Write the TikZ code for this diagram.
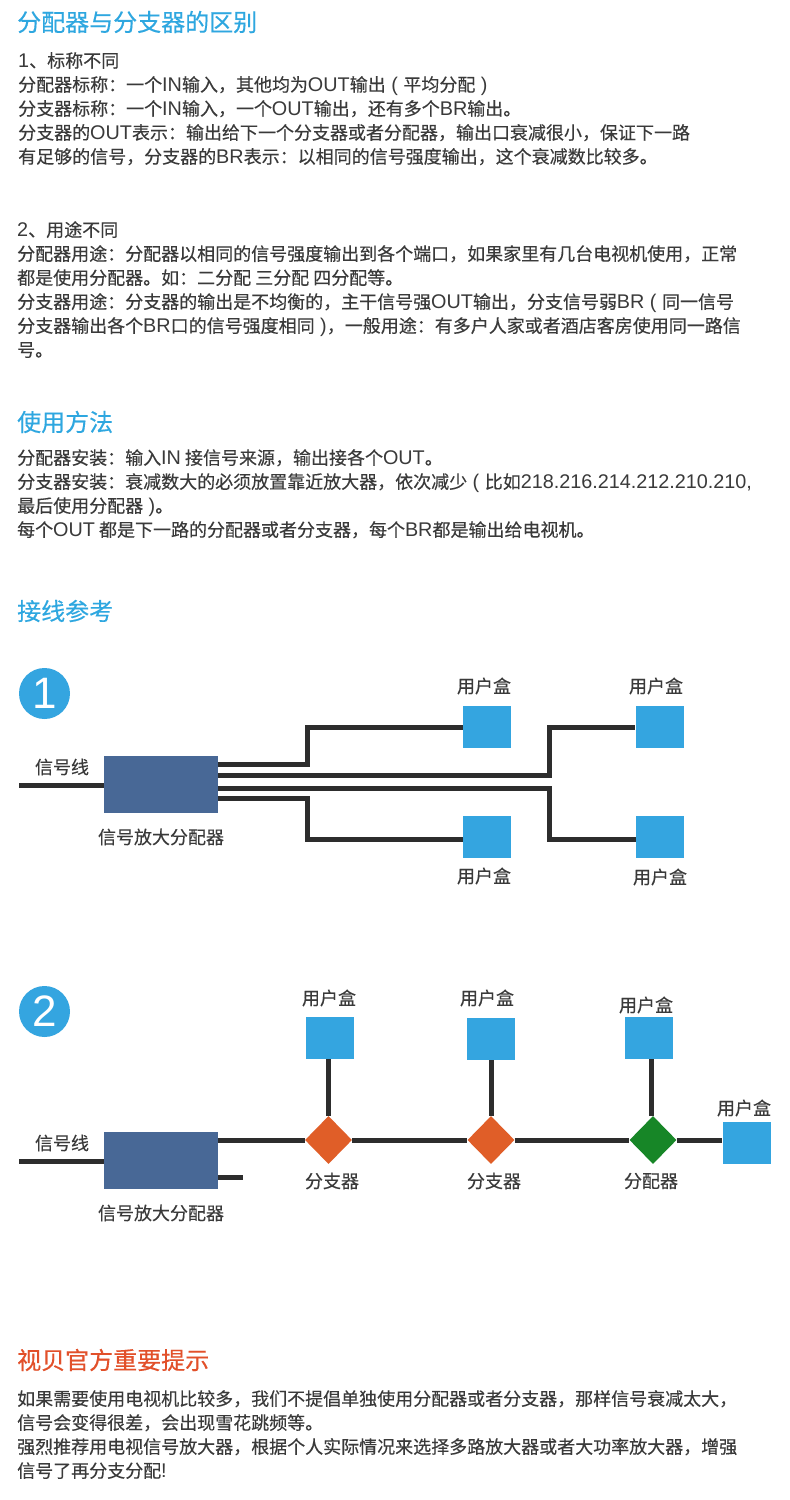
\documentclass[tikz,border=0pt]{standalone}
\usepackage{fontspec}
\setmainfont[FakeBold=0.3]{Noto Sans CJK SC}
\newfontfamily\latfont[Scale=1.1]{Liberation Sans}
\newcommand\lat[1]{{\latfont #1}}
\newcommand\zhcomma{\symbol{"FF0C}}
\newcommand\zhcolon{\symbol{"FF1A}}
\usetikzlibrary{shapes.geometric}
\definecolor{txtgray}{HTML}{3A3A3A}
\definecolor{headblue}{HTML}{2EA7E0}
\definecolor{headred}{HTML}{E2502A}
\definecolor{boxblue}{HTML}{34A5E0}
\definecolor{ampblue}{HTML}{486896}
\definecolor{wiregray}{HTML}{2D2D2D}
\definecolor{tapred}{HTML}{E05E28}
\definecolor{splitgreen}{HTML}{178627}
\tikzset{
  heading/.style={anchor=west,inner sep=0pt,font=\fontsize{24}{24}\selectfont},
  para/.style={anchor=north west,inner sep=0pt,align=left,text=txtgray,font=\fontsize{18}{24}\selectfont},
  tag/.style={inner sep=0pt,text=txtgray,font=\fontsize{18}{18}\selectfont},
  wire/.style={draw=wiregray,line width=5pt},
  userbox/.style={fill=boxblue,inner sep=0pt,minimum width=48pt,minimum height=42pt},
  ampbox/.style={fill=ampblue,inner sep=0pt,minimum width=114pt,minimum height=57pt},
  stepmark/.style={circle,fill=boxblue,text=white,inner sep=0pt,minimum size=51pt,font=\latfont\fontsize{40}{40}\selectfont},
  junction/.style={diamond,inner sep=0pt,minimum width=47pt,minimum height=48pt}
}
\begin{document}
\begin{tikzpicture}[x=1pt,y=-1pt]
  \useasboundingbox[fill=white] (0,0) rectangle (790,1500);
  % The texts
  \node[heading,text=headblue] (titlediff) at (17,22) {分配器与分支器的区别};
  \node[para] (paranames) at (18,52) {\lat{1}、标称不同\\
    分配器标称\zhcolon 一个\lat{IN}输入\zhcomma 其他均为\lat{OUT}输出\lat{ ( }平均分配\lat{ )}\\
    分支器标称\zhcolon 一个\lat{IN}输入\zhcomma 一个\lat{OUT}输出\zhcomma 还有多个\lat{BR}输出。\\
    分支器的\lat{OUT}表示\zhcolon 输出给下一个分支器或者分配器\zhcomma 输出口衰减很小\zhcomma 保证下一路\\
    有足够的信号\zhcomma 分支器的\lat{BR}表示\zhcolon 以相同的信号强度输出\zhcomma 这个衰减数比较多。};
  \node[para] (parauses) at (17,221) {\lat{2}、用途不同\\
    分配器用途\zhcolon 分配器以相同的信号强度输出到各个端口\zhcomma 如果家里有几台电视机使用\zhcomma 正常\\
    都是使用分配器。如\zhcolon 二分配 三分配 四分配等。\\
    分支器用途\zhcolon 分支器的输出是不均衡的\zhcomma 主干信号强\lat{OUT}输出\zhcomma 分支信号弱\lat{BR ( }同一信号\\
    分支器输出各个\lat{BR}口的信号强度相同\lat{ )}\zhcomma 一般用途\zhcolon 有多户人家或者酒店客房使用同一路信\\
    号。};
  \node[heading,text=headblue] (titleuse) at (17,422) {使用方法};
  \node[para] (parainstall) at (17,449) {分配器安装\zhcolon 输入\lat{IN} 接信号来源\zhcomma 输出接各个\lat{OUT}。\\
    分支器安装\zhcolon 衰减数大的必须放置靠近放大器\zhcomma 依次减少\lat{ ( }比如\lat{218.216.214.212.210.210,}\\
    最后使用分配器\lat{ )}。\\
    每个\lat{OUT} 都是下一路的分配器或者分支器\zhcomma 每个\lat{BR}都是输出给电视机。};
  \node[heading,text=headblue] (titlewire) at (17,611) {接线参考};
  \node[heading,text=headred] (titletip) at (17,1360) {视贝官方重要提示};
  \node[para] (paratip) at (17,1390) {如果需要使用电视机比较多\zhcomma 我们不提倡单独使用分配器或者分支器\zhcomma 那样信号衰减太大\zhcomma\\
    信号会变得很差\zhcomma 会出现雪花跳频等。\\
    强烈推荐用电视信号放大器\zhcomma 根据个人实际情况来选择多路放大器或者大功率放大器\zhcomma 增强\\
    信号了再分支分配\lat{!}};

  % Wiring 1
  \node[stepmark] (markone) at (44.5,693.5) {1};
  \node[ampbox] (ampone) at (161,784.5) {};
  \node[userbox] (userA) at (487,727) {};
  \node[userbox] (userB) at (659.5,727) {};
  \node[userbox] (userC) at (487,837) {};
  \node[userbox] (userD) at (659.5,837) {};
  \coordinate (inone) at (19,785);
  \draw[wire] (inone) -- (inone -| ampone.west);
  \draw[wire] (218,764) -- (307,764) -- (307,727) -- (userA.west);
  \draw[wire] (218,775) -- (549,775) -- (549,727) -- (userB.west);
  \draw[wire] (218,788) -- (549,788) -- (549,839) -- (635.5,839);
  \draw[wire] (218,798) -- (307,798) -- (307,839) -- (463,839);
  \node[tag] (lineone) at (62,767) {信号线};
  \node[tag] (nameone) at (161,837) {信号放大分配器};
  \node[tag] (tagA) at (484,686) {用户盒};
  \node[tag] (tagB) at (656,686) {用户盒};
  \node[tag] (tagC) at (484,876) {用户盒};
  \node[tag] (tagD) at (660,877) {用户盒};

  % Wiring 2
  \node[stepmark] (marktwo) at (44.5,1011.5) {2};
  \node[ampbox] (amptwo) at (161,1160.5) {};
  \node[userbox] (userE) at (329.5,1038) {};
  \node[userbox] (userF) at (490.5,1039) {};
  \node[userbox] (userG) at (648.5,1038) {};
  \node[userbox] (userH) at (746.5,1143) {};
  \node[junction,fill=tapred] (tapone) at (328.5,1140) {};
  \node[junction,fill=tapred] (taptwo) at (491,1140) {};
  \node[junction,fill=splitgreen] (splitone) at (653,1140) {};
  \coordinate (intwo) at (19,1161);
  \coordinate (stubtwo) at (243,1177);
  \draw[wire] (intwo) -- (intwo -| amptwo.west);
  \draw[wire] (218,1140) -- (tapone.west);
  \draw[wire] (tapone.east) -- (taptwo.west);
  \draw[wire] (taptwo.east) -- (splitone.west);
  \draw[wire] (splitone.east) -- (userH.west |- splitone.east);
  \draw[wire] (stubtwo -| amptwo.east) -- (stubtwo);
  \draw[wire] (tapone.north) -- (tapone.north |- userE.south);
  \draw[wire] (taptwo.north) -- (taptwo.north |- userF.south);
  \draw[wire] (651,1116) -- (651,1059);
  \node[tag] (linetwo) at (62,1143) {信号线};
  \node[tag] (nametwo) at (161,1213) {信号放大分配器};
  \node[tag] (tagE) at (329,998) {用户盒};
  \node[tag] (tagF) at (487,998) {用户盒};
  \node[tag] (tagG) at (646,1005) {用户盒};
  \node[tag] (tagH) at (744,1108) {用户盒};
  \node[tag] (tagtapone) at (332,1181) {分支器};
  \node[tag] (tagtaptwo) at (494,1181) {分支器};
  \node[tag] (tagsplit) at (651,1181) {分配器};
\end{tikzpicture}
\end{document}
